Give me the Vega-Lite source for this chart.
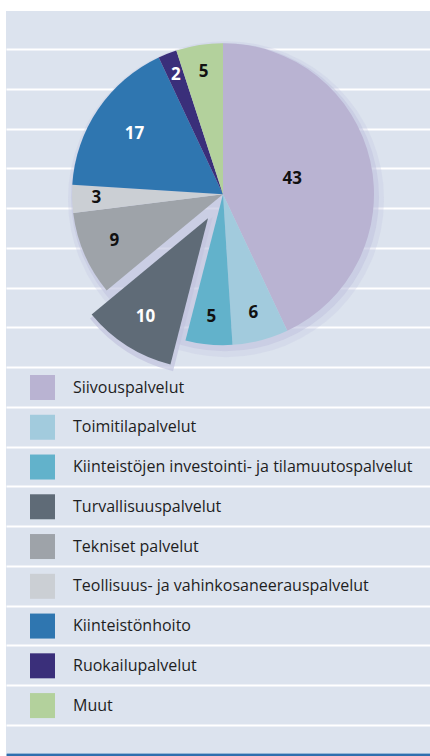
{
  "$schema": "https://vega.github.io/schema/vega-lite/v6.json",
  "width": 424,
  "height": 742,
  "autosize": {"type": "none"},
  "padding": {"left": 6, "top": 11, "right": 0, "bottom": 3},
  "background": "#ffffff",
  "config": {
    "view": {"fill": "#dce3ee", "stroke": null},
    "font": "Open Sans"
  },
  "data": {
    "values": [
      {"category": "Siivouspalvelut", "value": 43},
      {"category": "Toimitilapalvelut", "value": 6},
      {"category": "Kiinteistöjen investointi- ja tilamuutospalvelut", "value": 5},
      {"category": "Turvallisuuspalvelut", "value": 10},
      {"category": "Tekniset palvelut", "value": 9},
      {"category": "Teollisuus- ja vahinkosaneerauspalvelut", "value": 3},
      {"category": "Kiinteistönhoito", "value": 17},
      {"category": "Ruokailupalvelut", "value": 2},
      {"category": "Muut", "value": 5}
    ]
  },
  "transform": [{"window": [{"op": "row_number", "as": "idx"}]}],
  "encoding": {
    "x": {
      "datum": 217,
      "type": "quantitative",
      "scale": {"domain": [0, 424], "nice": false, "zero": false},
      "axis": {"orient": "bottom", "labels": false, "ticks": false, "grid": false, "title": null, "domainColor": "#2f6fae", "domainWidth": 3, "offset": 1.5}
    },
    "y": {
      "datum": 3.65,
      "type": "quantitative",
      "scale": {"domain": [-0.956, 17.704], "nice": false, "zero": false, "reverse": true},
      "axis": {"values": [0,1,2,3,4,5,6,7,8,9,10,11,12,13,14,15,16,17], "labels": false, "ticks": false, "domain": false, "title": null, "grid": true, "gridColor": "#ffffff", "gridWidth": 2, "gridOpacity": 1}
    }
  },
  "layer": [
    {
      "transform": [{"aggregate": [{"op": "sum", "field": "value", "as": "total"}]}],
      "mark": {"type": "arc", "outerRadius": 158, "xOffset": 3, "yOffset": 5, "opacity": 0.3},
      "encoding": {"theta": {"field": "total", "type": "quantitative"}, "color": {"value": "#c3c6e0"}}
    },
    {
      "transform": [{"aggregate": [{"op": "sum", "field": "value", "as": "total"}]}],
      "mark": {"type": "arc", "outerRadius": 154, "xOffset": 2, "yOffset": 3, "opacity": 0.5},
      "encoding": {"theta": {"field": "total", "type": "quantitative"}, "color": {"value": "#bfc2dd"}}
    },
    {
      "mark": {"type": "arc", "outerRadius": 153, "xOffset": -13, "yOffset": 27, "strokeWidth": 3, "stroke": "#c3c5df"},
      "encoding": {
        "theta": {"field": "value", "type": "quantitative", "stack": true},
        "order": {"field": "idx", "type": "quantitative"},
        "color": {"value": "#c3c5df"},
        "opacity": {"condition": {"test": "datum.category === 'Turvallisuuspalvelut'", "value": 0.7}, "value": 0}
      }
    },
    {
      "mark": {"type": "arc", "outerRadius": 151},
      "encoding": {
        "theta": {"field": "value", "type": "quantitative", "stack": true},
        "order": {"field": "idx", "type": "quantitative"},
        "color": {
          "field": "category",
          "type": "nominal",
          "scale": {
            "domain": ["Siivouspalvelut", "Toimitilapalvelut", "Kiinteistöjen investointi- ja tilamuutospalvelut", "Turvallisuuspalvelut", "Tekniset palvelut", "Teollisuus- ja vahinkosaneerauspalvelut", "Kiinteistönhoito", "Ruokailupalvelut", "Muut"],
            "range": ["#b9b3d2", "#a2cbdd", "#62b2cb", "#5f6b77", "#9ea3a9", "#cbcfd4", "#2f76b0", "#3a2f7a", "#b3d19c"]
          },
          "legend": {
            "orient": "none", "legendX": 24, "legendY": 364, "title": null,
            "symbolType": "square", "symbolSize": 625, "symbolStrokeWidth": 0, "symbolOpacity": 1,
            "rowPadding": 14.76, "labelFontSize": 16, "labelFont": "Open Sans", "labelColor": "#1e1e1e",
            "labelOffset": 18, "padding": 0, "labelLimit": 400
          }
        },
        "opacity": {"condition": {"test": "datum.category === 'Turvallisuuspalvelut'", "value": 0}, "value": 1}
      }
    },
    {
      "mark": {"type": "arc", "outerRadius": 151, "xOffset": -15, "yOffset": 24},
      "encoding": {
        "theta": {"field": "value", "type": "quantitative", "stack": true},
        "order": {"field": "idx", "type": "quantitative"},
        "color": {"field": "category", "type": "nominal"},
        "opacity": {"condition": {"test": "datum.category === 'Turvallisuuspalvelut'", "value": 1}, "value": 0}
      }
    },
    {
      "mark": {"type": "text", "fontSize": 17, "fontWeight": "bold", "font": "Open Sans"},
      "encoding": {
        "theta": {"field": "value", "type": "quantitative", "stack": true},
        "order": {"field": "idx", "type": "quantitative"},
        "radius": {"field": "value", "type": "quantitative", "scale": {"type": "linear", "domain": [2, 43], "range": [128, 71], "zero": false}},
        "text": {"field": "value"},
        "color": {"condition": {"test": "datum.category === 'Kiinteistönhoito' || datum.category === 'Ruokailupalvelut'", "value": "#ffffff"}, "value": "#111111"},
        "opacity": {"condition": {"test": "datum.category === 'Turvallisuuspalvelut'", "value": 0}, "value": 1}
      }
    },
    {
      "mark": {"type": "text", "fontSize": 17, "fontWeight": "bold", "font": "Open Sans", "xOffset": -15, "yOffset": 24},
      "encoding": {
        "theta": {"field": "value", "type": "quantitative", "stack": true},
        "order": {"field": "idx", "type": "quantitative"},
        "radius": {"field": "value", "type": "quantitative"},
        "text": {"field": "value"},
        "color": {"value": "#ffffff"},
        "opacity": {"condition": {"test": "datum.category === 'Turvallisuuspalvelut'", "value": 1}, "value": 0}
      }
    }
  ]
}
